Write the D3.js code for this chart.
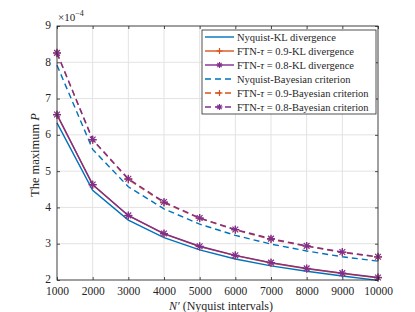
<!DOCTYPE html>
<html><head><meta charset="utf-8">
<script src="https://cdn.jsdelivr.net/npm/d3@7"></script>
<style>body{margin:0;background:#fff}svg{display:block}text{font-family:"Liberation Serif","Times New Roman",serif;fill:#262626}</style>
</head><body><svg id="c" width="415" height="312"></svg>
<script>
const N = [1000,2000,3000,4000,5000,6000,7000,8000,9000,10000];
const nyqKL   = [6.33,4.47,3.65,3.17,2.83,2.58,2.39,2.24,2.11,1.99];
const ftn09KL = [6.55,4.62,3.77,3.27,2.92,2.67,2.47,2.31,2.18,2.06];
const ftn08KL = [6.56,4.63,3.78,3.28,2.93,2.68,2.48,2.32,2.19,2.07];
const nyqBay  = [7.92,5.60,4.57,3.96,3.54,3.23,2.99,2.80,2.64,2.52];
const ftn09Bay= [8.25,5.86,4.77,4.13,3.70,3.38,3.12,2.93,2.76,2.63];
const ftn08Bay= [8.26,5.87,4.79,4.15,3.71,3.39,3.14,2.94,2.77,2.64];
const xTicks = N;
const yTicks = [2,3,4,5,6,7,8,9];

const svg = d3.select("#c");
const L=57,R=378,T=26,B=280;
const x = d3.scaleLinear().domain([1000,10000]).range([L,R]);
const y = d3.scaleLinear().domain([2,9]).range([B,T]);

// grid
const g = svg.append("g");
g.selectAll(".gx").data(xTicks).enter().append("line")
 .attr("x1",d=>x(d)).attr("x2",d=>x(d)).attr("y1",T).attr("y2",B)
 .attr("stroke","#e3e3e3").attr("stroke-width",1);
g.selectAll(".gy").data(yTicks).enter().append("line")
 .attr("y1",d=>y(d)).attr("y2",d=>y(d)).attr("x1",L).attr("x2",R)
 .attr("stroke","#e3e3e3").attr("stroke-width",1);

// series
const series = [
 {name:"nyqKL", v:nyqKL, c:"#0072BD", dash:null, m:null},
 {name:"ftn09KL", v:ftn09KL, c:"#D95319", dash:null, m:"plus"},
 {name:"ftn08KL", v:ftn08KL, c:"#7E2F8E", dash:null, m:"star"},
 {name:"nyqBay", v:nyqBay, c:"#0072BD", dash:"6,4", m:null},
 {name:"ftn09Bay", v:ftn09Bay, c:"#D95319", dash:"6,4", m:"plus"},
 {name:"ftn08Bay", v:ftn08Bay, c:"#7E2F8E", dash:"6,4", m:"star"}
];
const line = d3.line().x((d,i)=>x(N[i])).y(d=>y(d));
function marker(sel, m, cx, cy, c, s){
  if(!m) return;
  const h=s;
  sel.append("line").attr("x1",cx-h).attr("x2",cx+h).attr("y1",cy).attr("y2",cy).attr("stroke",c).attr("stroke-width",1.2);
  sel.append("line").attr("x1",cx).attr("x2",cx).attr("y1",cy-h).attr("y2",cy+h).attr("stroke",c).attr("stroke-width",1.2);
  if(m==="star"){
    const k=h*0.72;
    sel.append("line").attr("x1",cx-k).attr("x2",cx+k).attr("y1",cy-k).attr("y2",cy+k).attr("stroke",c).attr("stroke-width",1.2);
    sel.append("line").attr("x1",cx-k).attr("x2",cx+k).attr("y1",cy+k).attr("y2",cy-k).attr("stroke",c).attr("stroke-width",1.2);
  }
}
const plot = svg.append("g");
series.forEach(s=>{
  plot.append("path").attr("d",line(s.v)).attr("fill","none").attr("stroke",s.c)
   .attr("stroke-width",1.4).attr("stroke-dasharray",s.dash);
  const mg = plot.append("g");
  s.v.forEach((d,i)=>marker(mg,s.m,x(N[i]),y(d),s.c,4));
});

// axes box
svg.append("rect").attr("x",L).attr("y",T).attr("width",R-L).attr("height",B-T)
 .attr("fill","none").attr("stroke","#262626").attr("stroke-width",0.8);
const xa = d3.axisBottom(x).tickValues(xTicks).tickSize(-3).tickPadding(7).tickFormat(d3.format("d"));
const ya = d3.axisLeft(y).tickValues(yTicks).tickSize(-3).tickPadding(6).tickFormat(d3.format("d"));
const gx = svg.append("g").attr("transform",`translate(0,${B})`).call(xa);
const gy = svg.append("g").attr("transform",`translate(${L},0)`).call(ya);
const gxt = svg.append("g").attr("transform",`translate(0,${T})`).call(d3.axisTop(x).tickValues(xTicks).tickSize(-3).tickFormat(""));
const gyr = svg.append("g").attr("transform",`translate(${R},0)`).call(d3.axisRight(y).tickValues(yTicks).tickSize(-3).tickFormat(""));
[gx,gy,gxt,gyr].forEach(a=>{
  a.select(".domain").remove();
  a.selectAll(".tick line").attr("stroke","#262626").attr("stroke-width",0.8);
  a.selectAll("text").style("font-family","'Liberation Serif',serif").style("font-size","11.5px").attr("fill","#262626");
});
gy.selectAll(".tick text").attr("dy","0.25em");

// exponent label
const ex = svg.append("text").attr("x",58).attr("y",21).style("font-size","11px");
ex.append("tspan").text("×10");
ex.append("tspan").attr("dy",-5).style("font-size","8px").text("−4");

// axis labels
const xl = svg.append("text").attr("x",221).attr("y",309.5).attr("text-anchor","middle").style("font-size","12px");
xl.append("tspan").style("font-style","italic").text("N′");
xl.append("tspan").text(" (Nyquist intervals)");
const yl = svg.append("text").attr("transform",`translate(39,155) rotate(-90)`).attr("text-anchor","middle").style("font-size","12.5px");
yl.append("tspan").text("The maximum ");
yl.append("tspan").style("font-style","italic").text("P");

// legend
const labels = [
 [["Nyquist-KL divergence",false]],
 [["FTN-",false],["τ",true],[" = 0.9-KL divergence",false]],
 [["FTN-",false],["τ",true],[" = 0.8-KL divergence",false]],
 [["Nyquist-Bayesian criterion",false]],
 [["FTN-",false],["τ",true],[" = 0.9-Bayesian criterion",false]],
 [["FTN-",false],["τ",true],[" = 0.8-Bayesian criterion",false]]
];
const lg = svg.append("g");
lg.append("rect").attr("x",202).attr("y",30).attr("width",174).attr("height",84)
 .attr("fill","#fff").attr("stroke","#262626").attr("stroke-width",0.8);
series.forEach((s,i)=>{
  const yy = 37 + i*14;
  lg.append("line").attr("x1",205).attr("x2",234).attr("y1",yy).attr("y2",yy)
   .attr("stroke",s.c).attr("stroke-width",1.4).attr("stroke-dasharray",s.dash);
  marker(lg,s.m,219.5,yy,s.c,3);
  const t = lg.append("text").attr("x",237).attr("y",yy+3.5).style("font-size","10.5px");
  labels[i].forEach(p=>t.append("tspan").style("font-style",p[1]?"italic":"normal").text(p[0]));
});
</script></body></html>
